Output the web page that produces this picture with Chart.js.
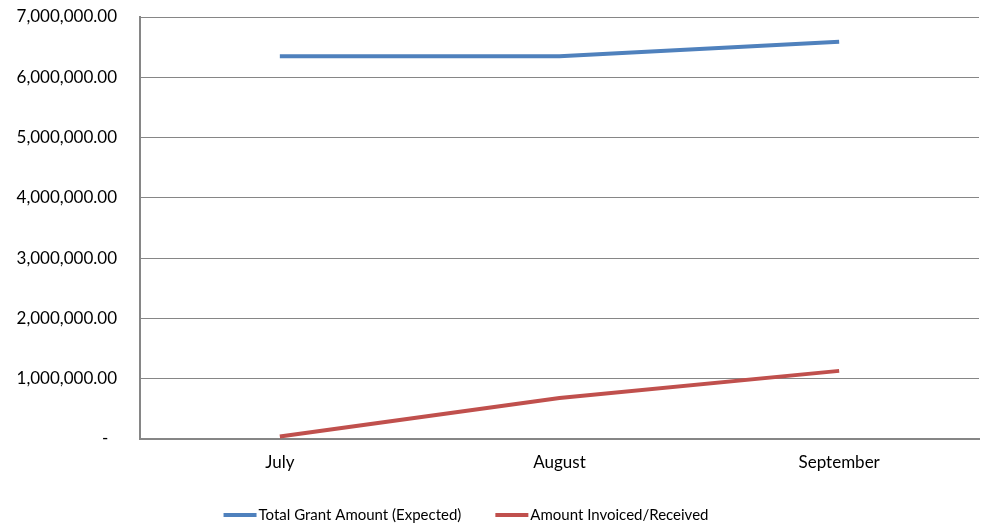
<!DOCTYPE html>
<html>
<head>
<meta charset="utf-8">
<script src="https://cdn.jsdelivr.net/npm/chart.js@4/dist/chart.umd.min.js"></script>
<style>
html,body{margin:0;padding:0;background:#fff;}
#wrap{width:991px;height:529px;}
</style>
</head>
<body>
<div id="wrap"><canvas id="c" width="991" height="529"></canvas></div>
<script>
const categories = ["July", "August", "September"];
const totalGrantExpected = [6350000, 6350000, 6590000];
const amountInvoicedReceived = [40000, 680000, 1130000];
const seriesNames = ["Total Grant Amount (Expected)", "Amount Invoiced/Received"];

const FONT = "Lato, 'Open Sans', sans-serif";

// Custom legend drawn from dataset labels/colours (Excel-like: line swatch touching text)
const excelLegend = {
  id: 'excelLegend',
  afterDraw(chart) {
    const c = chart.ctx;
    const sets = chart.data.datasets;
    c.save();
    c.font = "15px " + FONT;
    c.textBaseline = 'middle';
    c.fillStyle = '#000';
    const swatch = 33, gap = 2, spacing = 34;
    const widths = sets.map(d => c.measureText(d.label).width);
    let total = widths.reduce((a, w) => a + swatch + gap + w, 0) + spacing * (sets.length - 1);
    let x = 466 - total / 2;
    const y = 515;
    sets.forEach((d, i) => {
      c.strokeStyle = d.borderColor;
      c.lineWidth = 4;
      c.beginPath();
      c.moveTo(x, y);
      c.lineTo(x + swatch, y);
      c.stroke();
      c.fillText(d.label, x + swatch + gap, y);
      x += swatch + gap + widths[i] + spacing;
    });
    c.restore();
  }
};

const ctx = document.getElementById('c').getContext('2d');
new Chart(ctx, {
  type: 'line',
  data: {
    labels: categories,
    datasets: [
      { label: seriesNames[0], data: totalGrantExpected, borderColor: '#4F81BD', backgroundColor: '#4F81BD', borderWidth: 4, pointRadius: 0, tension: 0 },
      { label: seriesNames[1], data: amountInvoicedReceived, borderColor: '#C0504D', backgroundColor: '#C0504D', borderWidth: 4, pointRadius: 0, tension: 0 }
    ]
  },
  plugins: [excelLegend],
  options: {
    responsive: false,
    animation: false,
    devicePixelRatio: 1,
    layout: { padding: { top: 0, right: 12, left: 0, bottom: 50 } },
    plugins: {
      tooltip: { enabled: false },
      legend: { display: false }
    },
    scales: {
      x: {
        offset: true,
        afterFit: (s) => { s.height = 40; },
        grid: { display: false, drawTicks: false },
        border: { display: true, color: '#868686', width: 2 },
        ticks: { font: { family: FONT, size: 17 }, color: '#000', padding: 13 }
      },
      y: {
        min: 0, max: 7000000,
        afterFit: (s) => { s.width = 140; s.paddingTop = 17; s.paddingBottom = 0; },
        grid: { color: '#868686', lineWidth: 1, drawTicks: false },
        border: { display: true, color: '#868686', width: 2 },
        ticks: {
          stepSize: 1000000,
          font: { family: FONT, size: 17 }, color: '#000', padding: 23,
          callback: (v) => v === 0 ? '-  ' : v.toLocaleString('en-US', { minimumFractionDigits: 2, maximumFractionDigits: 2 })
        }
      }
    }
  }
});
</script>
</body>
</html>
